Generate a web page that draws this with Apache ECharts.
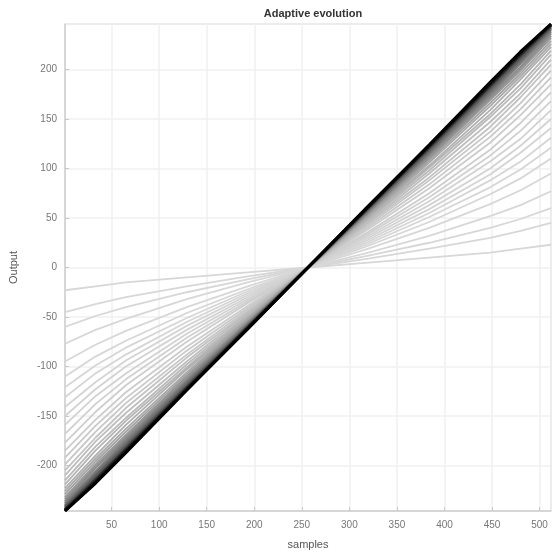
<!DOCTYPE html>
<html>
<head>
<meta charset="utf-8">
<script src="https://cdn.jsdelivr.net/npm/echarts@6/dist/echarts.min.js"></script>
<style>html,body{margin:0;padding:0;background:#fff;}#chart{width:552px;height:556px;}</style>
</head>
<body>
<div id="chart"></div>
<script>
// sample positions along the x axis
const samplePoints = [1, 33, 65, 129, 193, 256.5, 320, 384, 448, 480, 512];
// output of each adaptation step (first = lightest, last = final)
const outputs = [
  [-23,-19,-15,-10,-5,0,5,10,15,19,23],
  [-45,-37,-30,-19,-9,0,9,19,30,37,45],
  [-60,-49,-40,-25,-12,0,12,25,40,49,60],
  [-77,-63,-52,-32,-15,0,15,32,52,63,77],
  [-95,-78,-64,-40,-19,0,19,40,64,78,95],
  [-110,-90,-74,-46,-22,0,22,46,74,90,110],
  [-121,-99,-81,-51,-24,0,24,51,81,99,121],
  [-131,-107,-88,-55,-26,0,26,55,88,107,131],
  [-141,-116,-94,-59,-28,0,28,59,94,116,141],
  [-150,-123,-100,-63,-30,0,30,63,100,123,150],
  [-159,-130,-107,-67,-32,0,32,67,107,130,159],
  [-168,-138,-113,-71,-34,0,34,71,113,138,168],
  [-177,-146,-119,-75,-36,0,36,75,119,146,177],
  [-185,-154,-126,-80,-39,0,39,80,126,154,185],
  [-192,-160,-132,-84,-41,0,41,84,132,160,192],
  [-199,-166,-137,-88,-43,0,43,88,137,166,199],
  [-205,-172,-142,-91,-45,0,45,91,142,172,205],
  [-210,-176,-147,-95,-46,0,46,95,147,176,210],
  [-215,-181,-152,-98,-48,0,48,98,152,181,215],
  [-219,-185,-155,-101,-49,0,49,101,155,185,219],
  [-223,-190,-159,-103,-51,0,51,103,159,190,223],
  [-226,-193,-163,-106,-52,0,52,106,163,193,226],
  [-229,-196,-166,-108,-53,0,53,108,166,196,229],
  [-232,-199,-169,-110,-55,0,55,110,169,199,232],
  [-234,-201,-171,-111,-55,0,55,111,171,201,234],
  [-236,-203,-173,-113,-56,0,56,113,173,203,236],
  [-238,-206,-175,-115,-57,0,57,115,175,206,238],
  [-240,-208,-177,-116,-58,0,58,116,177,208,240],
  [-241,-210,-179,-118,-59,0,59,118,179,210,241],
  [-242,-211,-180,-119,-59,0,59,119,180,211,242],
  [-243,-213,-182,-120,-60,0,60,120,182,213,243],
  [-244,-214,-183,-121,-61,0,61,121,183,214,244],
  [-245,-215,-184,-122,-61,0,61,122,184,215,245],
  [-245,-216,-185,-123,-61,0,61,123,185,216,245],
  [-246,-217,-186,-123,-62,0,62,123,186,217,246],
  [-246,-218,-187,-124,-62,0,62,124,187,218,246]
];
const xTicks = [50, 100, 150, 200, 250, 300, 350, 400, 450, 500];
const yTicks = [-200, -150, -100, -50, 0, 50, 100, 150, 200];

const FONT = 'Liberation Sans';
const n = outputs.length;
const series = outputs.map((vals, i) => {
  const t = i / (n - 1);
  const g = Math.round(215 * (1 - Math.pow(t, 3)));
  const col = 'rgb(' + g + ',' + g + ',' + g + ')';
  const w = i >= n - 4 ? 3 : (i >= n - 10 ? 2.2 : 1.8);
  return {
    type: 'line',
    data: samplePoints.map((x, j) => [x, vals[j]]),
    showSymbol: false,
    silent: true,
    lineStyle: { color: col, width: w },
    itemStyle: { color: col }
  };
});

const chart = echarts.init(document.getElementById('chart'), null, { renderer: 'canvas' });
chart.setOption({
  animation: false,
  backgroundColor: '#fff',
  title: {
    text: 'Adaptive evolution',
    left: 308, top: 3, textAlign: 'center',
    textStyle: { fontFamily: FONT, fontSize: 11, fontWeight: 'bold', color: '#333' }
  },
  grid: { left: 65, right: 1, top: 24, bottom: 45, containLabel: false,
          show: true, borderColor: '#d9d9d9', borderWidth: 1 },
  xAxis: {
    type: 'value', min: 1, max: 512,
    name: 'samples', nameLocation: 'middle', nameGap: 28,
    nameTextStyle: { fontFamily: FONT, fontSize: 11, color: '#555' },
    axisLine: { show: true, onZero: false, lineStyle: { color: '#d0d0d0', width: 1.5 } },
    axisTick: { show: true, inside: true, length: 4, customValues: xTicks, lineStyle: { color: '#c8c8c8' } },
    axisLabel: { customValues: xTicks, fontFamily: FONT, fontSize: 10, color: '#777', margin: 9 },
    splitLine: { show: true, lineStyle: { color: '#f1f1f1', width: 1.5 } }
  },
  yAxis: {
    type: 'value', min: -246, max: 246,
    name: 'Output', nameLocation: 'middle', nameGap: 46, nameRotate: 90,
    nameTextStyle: { fontFamily: FONT, fontSize: 11, color: '#555' },
    axisLine: { show: true, onZero: false, lineStyle: { color: '#d0d0d0', width: 1.5 } },
    axisTick: { show: true, inside: true, length: 4, customValues: yTicks, lineStyle: { color: '#c8c8c8' } },
    axisLabel: { customValues: yTicks, fontFamily: FONT, fontSize: 10, color: '#777', margin: 8 },
    splitLine: { show: true, lineStyle: { color: '#f1f1f1', width: 1.5 } }
  },
  series: series
});
</script>
</body>
</html>
